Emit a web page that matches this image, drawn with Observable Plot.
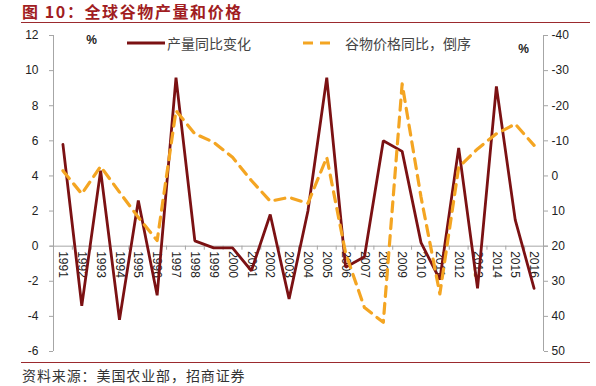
<!DOCTYPE html>
<html><head><meta charset="utf-8">
<script src="https://cdn.jsdelivr.net/npm/d3@7"></script>
<script src="https://cdn.jsdelivr.net/npm/@observablehq/plot@0.6"></script>
<style>
body{margin:0;background:#fff;}
#wrap{position:relative;width:596px;height:386px;overflow:hidden;font-family:"Noto Sans CJK SC",sans-serif;background:#fff;}
#title{position:absolute;left:22px;top:0px;font-size:16px;font-weight:bold;color:#a11d22;letter-spacing:1.6px;line-height:22px;white-space:nowrap;}
#topline{position:absolute;left:21px;right:6px;top:22px;border-top:1.5px solid #9b2a2e;}
#chart{position:absolute;left:0;top:23px;}
#bottomline{position:absolute;left:21px;right:6px;top:362px;border-top:1px solid #9b2a2e;}
#source{position:absolute;left:22px;top:366px;font-size:14px;color:#333;line-height:18px;white-space:nowrap;letter-spacing:0.9px;}
.lg{position:absolute;top:34px;font-size:14px;line-height:18px;color:#444;white-space:nowrap;}
#lgsvg{position:absolute;left:0;top:34px;}
</style>
</head><body>
<div id="wrap">
  <div id="title">图 10：全球谷物产量和价格</div>
  <div id="topline"></div>
  <div id="chart"></div>
  <svg id="lgsvg" width="596" height="18">
    <line x1="127" x2="165" y1="9" y2="9" stroke="#7b1113" stroke-width="3"/>
    <line x1="303" x2="333" y1="9" y2="9" stroke="#f4a522" stroke-width="3.2" stroke-dasharray="10 7"/>
  </svg>
  <div class="lg" style="left:167px">产量同比变化</div>
  <div class="lg" style="left:345px">谷物价格同比，倒序</div>
  <div id="bottomline"></div>
  <div id="source">资料来源：美国农业部，招商证券</div>
</div>
<script>
const years = [1991,1992,1993,1994,1995,1996,1997,1998,1999,2000,2001,2002,2003,2004,2005,2006,2007,2008,2009,2010,2011,2012,2013,2014,2015,2016];
// 产量同比变化 (%), left axis
const production = [5.8,-3.4,4.3,-4.2,2.6,-2.8,9.6,0.3,-0.1,-0.1,-1.4,1.8,-3.0,2.0,9.6,-1.2,-0.6,6.0,5.4,0.2,-1.9,5.6,-2.4,9.1,1.5,-2.4];
// 谷物价格同比 (%), right axis, reversed
const price = [-1.5,5.1,-2.7,4.6,11.8,18.4,-18.6,-12,-9.6,-5.3,1.3,7.2,6.1,7.8,-5.3,22,37.5,41.7,-26.2,6,33.6,-2.5,-7.7,-12,-14.8,-8.7];
const leftTicks = [-6,-4,-2,0,2,4,6,8,10,12];
const rightTicks = [-40,-30,-20,-10,0,10,20,30,40,50];

// right (reversed) axis mapped onto the left scale: 20 -> 0, -40 -> 12, 50 -> -6
const toLeft = r => 4 - r / 5;
const fromLeft = l => Math.round(20 - 5 * l);

const data = years.map((y, i) => ({year: y, prod: production[i], price: price[i]}));
const x0 = years[0] - 0.5, x1 = years[years.length - 1] + 0.5;
const yMin = leftTicks[0], yMax = leftTicks[leftTicks.length - 1];
const bounds = [x0, ...years.map(y => y + 0.5)];
const axisColor = "#a6a6a6";

const chart = Plot.plot({
  width: 596,
  height: 339,
  marginTop: 12,
  marginBottom: 11,
  marginLeft: 53,
  marginRight: 53,
  style: {fontFamily: "'Liberation Sans', Arial, sans-serif", fontSize: "12px", color: "#222", background: "transparent", overflow: "visible"},
  x: {domain: [x0, x1], axis: null},
  y: {domain: [yMin, yMax], axis: null},
  marks: [
    Plot.ruleX([x0, x1], {y1: yMin, y2: yMax, stroke: axisColor}),
    Plot.ruleY([0], {x1: x0, x2: x1, stroke: axisColor, insetLeft: -3, insetRight: -5}),
    Plot.ruleX(bounds, {y1: 0, y2: -0.23, stroke: axisColor}),
    Plot.axisY(leftTicks, {anchor: "left", label: null, tickSize: 4, tickPadding: 11, tickFormat: d => String(d), stroke: axisColor, fill: "#222", fontSize: 12}),
    Plot.axisY(rightTicks.map(toLeft), {anchor: "right", label: null, tickSize: 4, tickPadding: 4, tickFormat: d => String(fromLeft(d)), stroke: axisColor, fill: "#222", fontSize: 12}),
    Plot.text(years, {x: d => d, y: 0, text: d => String(d), rotate: 90, textAnchor: "start", dy: 5, fill: "#222", fontSize: 12}),
    Plot.text(["%"], {frameAnchor: "top-left", dx: 38, dy: 5, textAnchor: "middle", lineAnchor: "middle", fontWeight: "bold", fill: "#222", fontSize: 12}),
    Plot.text(["%"], {frameAnchor: "top-right", dx: -20, dy: 14, textAnchor: "middle", lineAnchor: "middle", fontWeight: "bold", fill: "#222", fontSize: 12}),
    Plot.line(data, {x: "year", y: "prod", stroke: "#7b1113", strokeWidth: 2.8, strokeLinejoin: "miter"}),
    Plot.line(data, {x: "year", y: d => toLeft(d.price), stroke: "#f4a522", strokeWidth: 3.2, strokeDasharray: "10,7"})
  ]
});
document.getElementById("chart").appendChild(chart);
</script>
</body></html>
